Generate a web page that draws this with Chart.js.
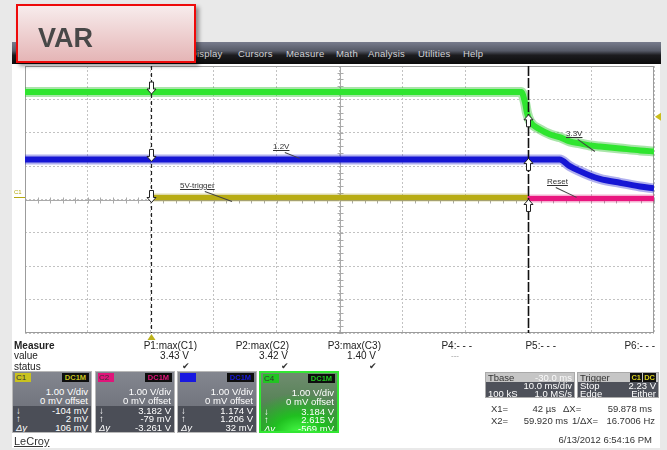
<!DOCTYPE html>
<html>
<head>
<meta charset="utf-8">
<script src="https://cdn.jsdelivr.net/npm/chart.js@4.4.1/dist/chart.umd.min.js"></script>
<style>
  body { margin:0; width:667px; height:450px; overflow:hidden; background:#e9e9e9; position:relative;
         font-family:"Liberation Sans", Arial, sans-serif; }
  .a { position:absolute; white-space:nowrap; }
  #screen { left:12px; top:64px; width:648px; height:384px; background:#fff; }
  #menu { left:12px; top:42px; width:649px; height:22px;
          background:linear-gradient(#787c8d 0%, #565a67 40%, #1c1c1f 60%, #0b0b0b 100%); }
  .mi { top:48px; font-size:9.5px; color:#cfd0d4; letter-spacing:0.2px; }
  #var { left:16px; top:4px; width:180px; height:59px; box-sizing:border-box; border:2px solid #ee0a0a;
         background:linear-gradient(#f7ecec, #e5b5b6); box-shadow:3px 3px 4px rgba(0,0,0,0.4); z-index:5; }
  #var span { position:absolute; left:20px; top:17px; font-size:27px; font-weight:bold; color:#484848; }
  #scope { left:12px; top:64px; }
  .lbl { font-size:8px; line-height:8px; color:#333; text-decoration:underline; }
  .m { font-size:10px; line-height:10px; color:#222; }
  .ch { top:371px; width:80px; height:62px; box-sizing:border-box; border:1px solid #b8b8b8;
        background:linear-gradient(#83868f, #656871); color:#fff; font-size:9.5px; overflow:hidden; }
  .ch .lo { position:absolute; left:0; right:0; top:34px; bottom:0; background:#4b4e57; }
  .ch .chip { position:absolute; left:2px; top:1px; width:15px; height:9px; font-size:8px; line-height:9px; color:#333; padding-left:1px; }
  .ch .dc { position:absolute; right:2px; top:1px; width:27px; height:9px; background:#0e0e0e; font-size:7.5px; font-weight:bold; line-height:9px; text-align:center; }
  .ch .r { position:absolute; right:3px; line-height:10px; }
  .ch .l { position:absolute; left:3px; line-height:10px; font-style:italic; }
  .bx { top:372px; height:26px; background:#4e515a; color:#fff; font-size:9.5px; border:1px solid #aaa; box-sizing:border-box; }
  .bx .hd { position:absolute; left:0; right:0; top:0; height:9px; background:#c6c6c6; }
  .bx span { position:absolute; line-height:9px; }
  .xr { font-size:9.5px; line-height:10px; color:#333; }
</style>
</head>
<body>
<div id="screen" class="a"></div>
<div id="menu" class="a"></div>
<span class="a mi" style="left:190px">Display</span>
<span class="a mi" style="left:238px">Cursors</span>
<span class="a mi" style="left:286px">Measure</span>
<span class="a mi" style="left:336px">Math</span>
<span class="a mi" style="left:368px">Analysis</span>
<span class="a mi" style="left:418px">Utilities</span>
<span class="a mi" style="left:463px">Help</span>
<div id="var" class="a"><span>VAR</span></div>

<canvas id="scope" class="a" width="655" height="280"></canvas>

<span class="a lbl" style="left:273px;top:143px">1.2V</span>
<span class="a lbl" style="left:180px;top:182px">5V-trigger</span>
<span class="a lbl" style="left:566px;top:130px">3.3V</span>
<span class="a lbl" style="left:547px;top:178px">Reset</span>
<span class="a" style="left:14px;top:189px;font-size:6px;color:#b5a90f">C1</span>

<span class="a m" style="left:14px;top:341px;font-weight:bold">Measure</span>
<span class="a m" style="left:14px;top:351px">value</span>
<span class="a m" style="left:14px;top:362px">status</span>
<div id="meas"></div>
<div id="chans"></div>

<div class="a bx" style="left:485px;width:90px">
  <div class="hd"></div>
  <span style="left:2px;top:0;color:#333">Tbase</span>
  <span style="right:2px;top:0;color:#fafafa">-30.0 ms</span>
  <span style="right:2px;top:8px">10.0 ms/div</span>
  <span style="left:2px;top:16px">100 kS</span>
  <span style="right:2px;top:16px">1.0 MS/s</span>
</div>
<div class="a bx" style="left:577px;width:82px">
  <div class="hd"></div>
  <span style="left:2px;top:0;color:#333">Trigger</span>
  <span style="right:16px;top:0;background:#111;color:#d9cf1c;font-size:7.5px;font-weight:bold;padding:0 1px">C1</span>
  <span style="right:2px;top:0;background:#111;color:#d9cf1c;font-size:7.5px;font-weight:bold;padding:0 1px">DC</span>
  <span style="left:2px;top:8px">Stop</span>
  <span style="right:2px;top:8px">2.23 V</span>
  <span style="left:2px;top:16px">Edge</span>
  <span style="right:2px;top:16px">Either</span>
</div>
<span class="a xr" style="left:491px;top:404px">X1=</span>
<span class="a xr" style="right:111px;top:404px">42 µs</span>
<span class="a xr" style="left:563px;top:404px">ΔX=</span>
<span class="a xr" style="right:15px;top:404px">59.878 ms</span>
<span class="a xr" style="left:491px;top:416px">X2=</span>
<span class="a xr" style="right:99px;top:416px">59.920 ms</span>
<span class="a xr" style="left:572px;top:416px">1/ΔX=</span>
<span class="a xr" style="right:12px;top:416px">16.7006 Hz</span>
<span class="a xr" style="right:15px;top:435px">6/13/2012 6:54:16 PM</span>
<span class="a" style="left:14px;top:435px;font-size:11px;color:#333;text-decoration:underline">LeCroy</span>

<script>
// traces: time in ms (cursor X1 = 0), amplitude in divisions (1 V/div)
const greenT  = [-20, 58.9, 59.5, 59.8, 60.3, 61.9, 63.5, 65.1, 66.6, 68.2, 69.8, 71.4, 74.6, 77.8, 80];
const greenV  = [3.22, 3.22, 2.9, 2.6, 2.34, 2.1, 1.95, 1.86, 1.74, 1.68, 1.62, 1.59, 1.53, 1.47, 1.44];
const blueT   = [-20, 65, 66.6, 68.2, 69.8, 71.4, 74.6, 77.8, 80];
const blueV   = [1.2, 1.2, 1.0, 0.85, 0.72, 0.62, 0.5, 0.39, 0.33];
const yellowT = [0, 59.92];
const yellowV = [0.06, 0.06];
const pinkT   = [59.92, 80];
const pinkV   = [0.03, 0.03];
const cursorT = [0, 59.92];
const trigLevel = 2.48;

const measHead = ['P1:max(C1)', 'P2:max(C2)', 'P3:max(C3)', 'P4:- - -', 'P5:- - -', 'P6:- - -'];
const measVal  = ['3.43 V', '3.42 V', '1.40 V', '---', '', ''];
const measOk   = [true, true, true, false, false, false];

const chNames  = ['C1', 'C2', '', 'C4'];
const chColors = ['#c9c21f', '#e0157a', '#1818e0', '#22c422'];
const chScale  = ['1.00 V/div', '1.00 V/div', '1.00 V/div', '1.00 V/div'];
const chOffset = ['0 mV offset', '0 mV offset', '0 mV offset', '0 mV offset'];
const chMin    = ['-104 mV', '3.182 V', '1.174 V', '3.184 V'];
const chMax    = ['2 mV', '-79 mV', '1.206 V', '2.615 V'];
const chDelta  = ['106 mV', '-3.261 V', '32 mV', '-569 mV'];

// measure table
const headRight = [470, 378, 286, 195, 111, 12];
const valRight  = [478, 379, 291, 0, 0, 0];
let mh = '';
measHead.forEach((h, i) => {
  mh += `<span class="a m" style="right:${headRight[i]}px;top:341px">${h}</span>`;
  if (measVal[i] === '---') mh += `<span class="a m" style="left:451px;top:351px;color:#999;font-size:8px">---</span>`;
  else if (measVal[i]) mh += `<span class="a m" style="right:${valRight[i]}px;top:351px">${measVal[i]}</span>`;
  if (measOk[i]) mh += `<span class="a m" style="right:${valRight[i] - 1}px;top:361px;font-size:9px;color:#333">✔</span>`;
});
document.getElementById('meas').innerHTML = mh;

// channel boxes
const chLeft = [12, 95, 177, 259];
let ch = '';
chNames.forEach((n, i) => {
  const green = i === 3;
  const bg = green
    ? 'background:radial-gradient(ellipse 75% 70% at 50% 105%, #48ff48 0%, #20c020 45%, rgba(32,150,32,0) 100%), linear-gradient(#6f8c6f, #3f7a3f);border:2px solid #33e633;'
    : '';
  ch += `<div class="a ch" style="left:${chLeft[i]}px;${bg}">
    ${green ? '' : '<div class="lo"></div>'}
    <div class="chip" style="background:${chColors[i]}">${n}</div>
    <div class="dc" style="color:${chColors[i]}">DC1M</div>
    <div class="r" style="top:15px">${chScale[i]}</div>
    <div class="r" style="top:24px">${chOffset[i]}</div>
    <div class="l" style="top:34px">↓</div><div class="r" style="top:34px">${chMin[i]}</div>
    <div class="l" style="top:42px">↑</div><div class="r" style="top:42px">${chMax[i]}</div>
    <div class="l" style="top:51px">Δy</div><div class="r" style="top:51px">${chDelta[i]}</div>
  </div>`;
});
document.getElementById('chans').innerHTML = ch;

// leader lines for the trace labels
function leader(x1, y1, x2, y2) {
  const d = document.createElement('div');
  const len = Math.hypot(x2 - x1, y2 - y1);
  d.className = 'a';
  d.style.cssText = `left:${x1}px;top:${y1}px;width:${len}px;height:1px;background:#444;transform-origin:0 0;transform:rotate(${Math.atan2(y2 - y1, x2 - x1)}rad)`;
  document.body.appendChild(d);
}
leader(285, 152, 300, 158);
leader(205, 191, 232, 201);
leader(578, 139, 595, 151);
leader(556, 187, 577, 197);
const c1m = document.createElement('div');
c1m.className = 'a';
c1m.style.cssText = 'left:14px;top:197px;width:11px;height:1px;background:#b5a90f';
document.body.appendChild(c1m);

function pts(ts, vs) { return ts.map((t, i) => ({ x: t, y: vs[i] })); }
function trace(ts, vs, color, w, order) {
  return { data: pts(ts, vs), borderColor: color, borderWidth: w, pointRadius: 0, fill: false,
           cubicInterpolationMode: 'monotone', order: order };
}
function valueAt(ts, vs, t) {
  for (let i = 1; i < ts.length; i++) {
    if (t <= ts[i]) return vs[i - 1] + (vs[i] - vs[i - 1]) * (t - ts[i - 1]) / (ts[i] - ts[i - 1]);
  }
  return vs[vs.length - 1];
}

function arrow(ctx, px, tipY, down) {
  const s = down ? -1 : 1;
  ctx.beginPath();
  ctx.moveTo(px, tipY);
  ctx.lineTo(px + 4.5, tipY + s * 5);
  ctx.lineTo(px + 2, tipY + s * 5);
  ctx.lineTo(px + 2, tipY + s * 12);
  ctx.lineTo(px - 2, tipY + s * 12);
  ctx.lineTo(px - 2, tipY + s * 5);
  ctx.lineTo(px - 4.5, tipY + s * 5);
  ctx.closePath();
  ctx.fillStyle = '#fff';
  ctx.fill();
  ctx.strokeStyle = '#222';
  ctx.lineWidth = 1;
  ctx.stroke();
}

const scopeDecor = {
  id: 'scopeDecor',
  beforeDatasetsDraw(chart) {
    const { ctx, chartArea: a, scales: { x, y } } = chart;
    ctx.save();
    const cx = Math.round(x.getPixelForValue(30)) + 0.5;
    const cy = Math.round(y.getPixelForValue(0)) + 0.5;
    ctx.strokeStyle = '#aaa';
    ctx.lineWidth = 1;
    ctx.beginPath();
    ctx.moveTo(a.left, cy); ctx.lineTo(a.right, cy);
    ctx.moveTo(cx, a.top); ctx.lineTo(cx, a.bottom);
    for (let t = -20; t <= 80; t += 2) {
      const px = Math.round(x.getPixelForValue(t)) + 0.5;
      ctx.moveTo(px, cy - 3); ctx.lineTo(px, cy + 3);
    }
    for (let v = -4; v <= 4.001; v += 0.2) {
      const py = Math.round(y.getPixelForValue(v)) + 0.5;
      ctx.moveTo(cx - 3, py); ctx.lineTo(cx + 3, py);
    }
    ctx.stroke();
    ctx.strokeStyle = '#9c9c9c';
    ctx.strokeRect(a.left + 0.5, a.top + 0.5, a.width - 1, a.height - 1);
    ctx.restore();
  },
  afterDatasetsDraw(chart) {
    const { ctx, chartArea: a, scales: { x, y } } = chart;
    ctx.save();
    const x1 = Math.round(x.getPixelForValue(cursorT[0])) + 0.5;
    const x2 = Math.round(x.getPixelForValue(cursorT[1])) + 0.5;
    ctx.strokeStyle = '#222';
    ctx.lineWidth = 1.2;
    ctx.setLineDash([4, 3]);
    ctx.beginPath(); ctx.moveTo(x1, a.top); ctx.lineTo(x1, a.bottom); ctx.stroke();
    ctx.strokeStyle = '#111';
    ctx.lineWidth = 1.6;
    ctx.setLineDash([10, 2]);
    ctx.beginPath(); ctx.moveTo(x2, a.top); ctx.lineTo(x2, a.bottom); ctx.stroke();
    ctx.setLineDash([]);

    // cursor markers on traces
    arrow(ctx, x1, y.getPixelForValue(valueAt(greenT, greenV, cursorT[0])) + 2, true);
    arrow(ctx, x1, y.getPixelForValue(valueAt(blueT, blueV, cursorT[0])) + 2, true);
    arrow(ctx, x1, y.getPixelForValue(yellowV[0]) + 5, true);
    arrow(ctx, x2, y.getPixelForValue(valueAt(greenT, greenV, cursorT[1])), false);
    arrow(ctx, x2, y.getPixelForValue(valueAt(blueT, blueV, cursorT[1])) - 1, false);
    arrow(ctx, x2, y.getPixelForValue(pinkV[0]) + 1, false);

    // trigger position / level markers
    ctx.fillStyle = '#bdb21c';
    ctx.beginPath();
    ctx.moveTo(x1, a.bottom + 1); ctx.lineTo(x1 + 4, a.bottom + 7); ctx.lineTo(x1 - 4, a.bottom + 7);
    ctx.closePath(); ctx.fill();
    const ty = y.getPixelForValue(trigLevel);
    ctx.fillStyle = '#cbbd1a';
    ctx.beginPath();
    ctx.moveTo(a.right + 1, ty); ctx.lineTo(a.right + 7, ty - 4); ctx.lineTo(a.right + 7, ty + 4);
    ctx.closePath(); ctx.fill();
    ctx.restore();
  }
};

const gridOpts = { color: '#c2c2c2', lineWidth: 1, drawTicks: false };
new Chart(document.getElementById('scope'), {
  type: 'line',
  data: {
    datasets: [
      trace(greenT, greenV, 'rgba(40,190,40,0.4)', 10, 8),
      trace(greenT, greenV, '#2fe52f', 6, 4),
      trace(blueT, blueV, 'rgba(25,25,205,0.35)', 10, 7),
      trace(blueT, blueV, '#1616d4', 6, 3),
      trace(yellowT, yellowV, 'rgba(160,150,15,0.35)', 8, 6),
      trace(yellowT, yellowV, '#b8ac14', 5, 2),
      trace(pinkT, pinkV, 'rgba(225,25,120,0.35)', 8, 5),
      trace(pinkT, pinkV, '#e9167f', 5, 1)
    ]
  },
  options: {
    responsive: false,
    animation: false,
    layout: { padding: { left: 13, top: 2, right: 13, bottom: 11 } },
    plugins: { legend: { display: false }, tooltip: { enabled: false } },
    scales: {
      x: { type: 'linear', min: -20, max: 80, ticks: { display: false, stepSize: 10 },
           grid: gridOpts, border: { display: false, dash: [2, 2] } },
      y: { type: 'linear', min: -4, max: 4, ticks: { display: false, stepSize: 1 },
           grid: gridOpts, border: { display: false, dash: [2, 2] } }
    }
  },
  plugins: [scopeDecor]
});
</script>
</body>
</html>
